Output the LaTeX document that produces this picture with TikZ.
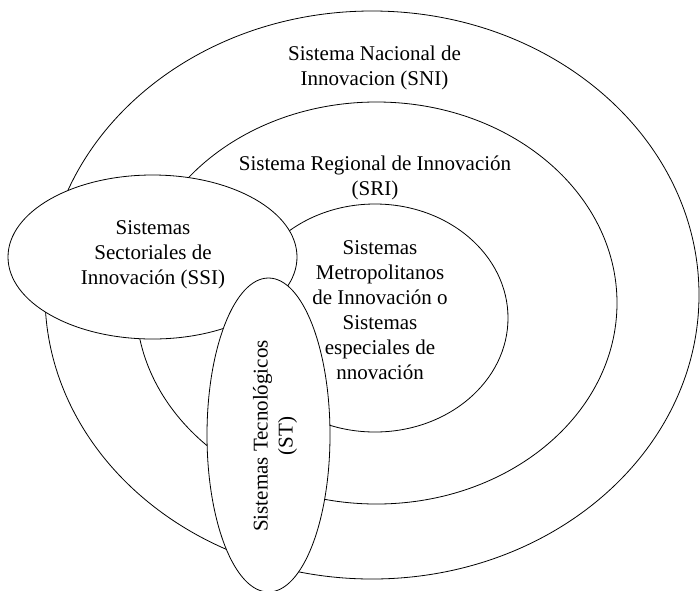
\documentclass[tikz,border=0pt]{standalone}
\usepackage{fontspec}
\setmainfont{Liberation Serif}
\usetikzlibrary{shapes.geometric}
\tikzset{
  region/.style={ellipse, draw=black, line width=0.8pt, fill=white, inner sep=0pt},
  lbl/.style={align=center, inner sep=0pt, font=\fontsize{21}{25}\selectfont}
}
\begin{document}
\begin{tikzpicture}[x=1pt,y=-1pt]
\useasboundingbox (0,0) rectangle (700,590);
\node[region, minimum width=654pt, minimum height=568pt] (sni) at (372,295) {};
\node[region, minimum width=481pt, minimum height=402pt] (sri) at (376.5,303) {};
\node[region, minimum width=266pt, minimum height=228pt] (smi) at (375,318) {};
\node[region, minimum width=289pt, minimum height=164pt] (ssi) at (152.5,257) {};
\node[region, minimum width=123pt, minimum height=314pt] (st) at (268.5,435) {};
\node[lbl] (tsni) at (374.5,67.5) {Sistema Nacional de\\Innovacion (SNI)};
\node[lbl] (tsri) at (375,177.5) {Sistema Regional de Innovación\\(SRI)};
\node[lbl] (tssi) at (153,255) {Sistemas\\Sectoriales de\\Innovación (SSI)};
\node[lbl] (tsmi) at (380,310.5) {Sistemas\\Metropolitanos\\de Innovación o\\Sistemas\\especiales de\\nnovación};
\node[lbl, rotate=90] (tst) at (275,436) {Sistemas Tecnológicos\\(ST)};
\end{tikzpicture}
\end{document}
